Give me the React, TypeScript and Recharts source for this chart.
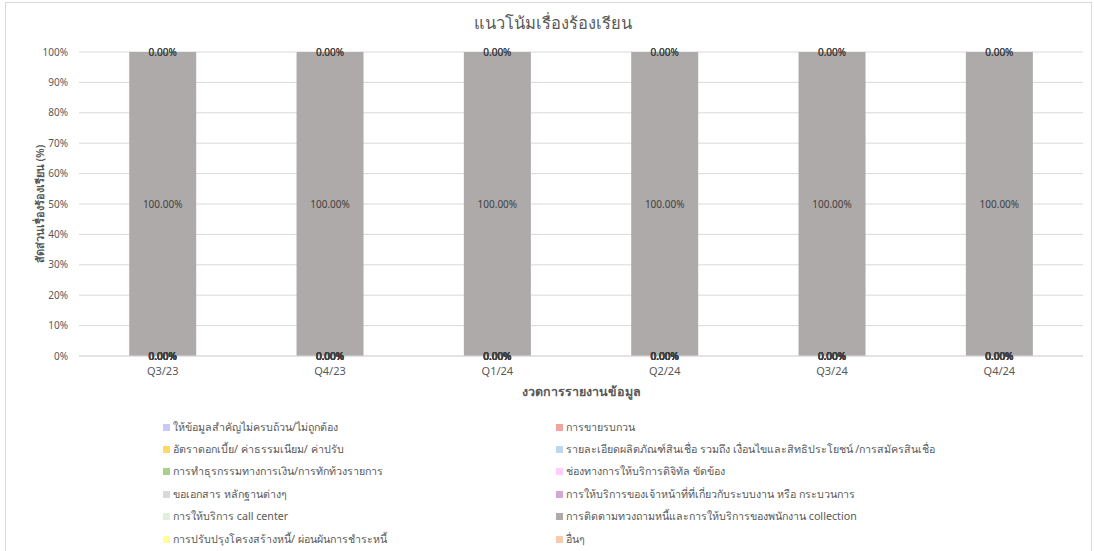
import { BarChart, Bar, XAxis, YAxis, CartesianGrid, LabelList, Label } from "recharts";

// periods on the x axis
const periods = ["Q3/23", "Q4/23", "Q1/24", "Q2/24", "Q3/24", "Q4/24"];
const yTicks = [0, 0.1, 0.2, 0.3, 0.4, 0.5, 0.6, 0.7, 0.8, 0.9, 1];

// share of complaints per topic (%), one array per topic
const incompleteInfo = [0, 0, 0, 0, 0, 0];
const annoyingSales = [0, 0, 0, 0, 0, 0];
const interestFees = [0, 0, 0, 0, 0, 0];
const productDetails = [0, 0, 0, 0, 0, 0];
const transactions = [0, 0, 0, 0, 0, 0];
const digitalChannels = [0, 0, 0, 0, 0, 0];
const documents = [0, 0, 0, 0, 0, 0];
const staffService = [0, 0, 0, 0, 0, 0];
const callCenter = [0, 0, 0, 0, 0, 0];
const collection = [100, 100, 100, 100, 100, 100];
const debtRestructure = [0, 0, 0, 0, 0, 0];
const others = [0, 0, 0, 0, 0, 0];

const seriesNames = [
  "ให้ข้อมูลสำคัญไม่ครบถ้วน/ไม่ถูกต้อง",
  "การขายรบกวน",
  "อัตราดอกเบี้ย/ ค่าธรรมเนียม/ ค่าปรับ",
  "รายละเอียดผลิตภัณฑ์สินเชื่อ รวมถึง เงื่อนไขและสิทธิประโยชน์ /การสมัครสินเชื่อ",
  "การทำธุรกรรมทางการเงิน/การทักท้วงรายการ",
  "ช่องทางการให้บริการดิจิทัล ขัดข้อง",
  "ขอเอกสาร หลักฐานต่างๆ",
  "การให้บริการของเจ้าหน้าที่ที่เกี่ยวกับระบบงาน หรือ กระบวนการ",
  "การให้บริการ call center",
  "การติดตามทวงถามหนี้และการให้บริการของพนักงาน collection",
  "การปรับปรุงโครงสร้างหนี้/ ผ่อนผันการชำระหนี้",
  "อื่นๆ",
];

const seriesValues = [
  incompleteInfo,
  annoyingSales,
  interestFees,
  productDetails,
  transactions,
  digitalChannels,
  documents,
  staffService,
  callCenter,
  collection,
  debtRestructure,
  others,
];

const seriesColors = [
  "#C9C9F7",
  "#F4A3A3",
  "#FFD966",
  "#BDD7EE",
  "#A9D18E",
  "#FFCCFF",
  "#D9D9D9",
  "#D4A8D4",
  "#E2EFDA",
  "#AEAAAA",
  "#FFFF99",
  "#F8CBAD",
];

const data = periods.map((period, i) => {
  const row: any = { period };
  seriesValues.forEach((vals, s) => {
    row["s" + s] = vals[i];
  });
  return row;
});

const FONT = "'Noto Sans', 'DejaVu Sans', sans-serif";
const MAIN = 9; // index of the only non-zero topic
const fmt = (v: any) => `${Number(v).toFixed(2)}%`;

// zero-height segments get no label from recharts, so the labels of the
// empty topics are drawn on the edges of the filled segment
const renderLabels = (props: any) => {
  const { x, y, width, height, index } = props;
  const cx = x + width / 2;
  const texts: any[] = [];
  seriesValues.forEach((vals, s) => {
    let ty = y + height / 2;
    if (s < MAIN) ty = y + height;
    if (s > MAIN) ty = y;
    texts.push(
      <text
        key={s}
        x={cx}
        y={ty}
        dy="0.35em"
        textAnchor="middle"
        fill="#404040"
        fontSize={10}
        fontFamily={FONT}
      >
        {fmt(vals[index])}
      </text>
    );
  });
  return <g>{texts}</g>;
};

export default function App() {
  return (
    <div style={{ position: "absolute", left: 0, top: 0, width: 1094, height: 551, fontFamily: FONT, background: "#fff", overflow: "hidden" }}>

      {/* frame */}
      <div style={{ position: "absolute", left: 5, top: 2, width: 1085, height: 560, border: "1px solid #D9D9D9" }} />

      {/* title */}
      <div style={{ position: "absolute", left: 0, width: 1106, top: 10, textAlign: "center", fontSize: 16.5, color: "#595959" }}>
        แนวโน้มเรื่องร้องเรียน
      </div>

      <div style={{ position: "absolute", left: 0, top: 0 }}>
        <BarChart
          width={1094}
          height={551}
          data={data}
          stackOffset="expand"
          barCategoryGap="30%"
          margin={{ top: 52, right: 11, bottom: 165, left: 39 }}
        >
          <CartesianGrid vertical={false} stroke="#D9D9D9" />

          <XAxis
            dataKey="period"
            axisLine={{ stroke: "#D9D9D9" }}
            tickLine={false}
            tickSize={6}
            tickMargin={5}
            height={30}
            tick={{ fill: "#595959", fontSize: 11, fontFamily: FONT }}
          >
            <Label
              value="งวดการรายงานข้อมูล"
              position="bottom"
              offset={1}
              style={{ fill: "#595959", fontSize: 12.5, fontWeight: 600, fontFamily: FONT }}
            />
          </XAxis>

          <YAxis
            width={40}
            domain={[0, 1]}
            ticks={yTicks}
            axisLine={false}
            tickLine={false}
            tickSize={6}
            tickMargin={5}
            tickFormatter={(v) => `${Math.round(v * 100)}%`}
            tick={{ fill: "#595959", fontSize: 10, fontFamily: FONT }}
          >
            <Label
              value="สัดส่วนเรื่องร้องเรียน (%)"
              angle={-90}
              position="left"
              offset={7}
              dx={8}
              style={{ fill: "#595959", fontSize: 11, fontWeight: 600, textAnchor: "middle", fontFamily: FONT }}
            />
          </YAxis>

          {seriesNames.map((name, s) => (
            <Bar
              key={name}
              name={name}
              dataKey={"s" + s}
              stackId="a"
              fill={seriesColors[s]}
              isAnimationActive={false}
            >
              {s === MAIN && (
                <LabelList dataKey={"s" + s} content={renderLabels} />
              )}
            </Bar>
          ))}
        </BarChart>
      </div>

      {/* LEGEND */}
      <div style={{ position: "absolute", left: 163, top: 416, width: 920, display: "grid", gridTemplateColumns: "393px auto" }}>
        {seriesNames.map((name, s) => (
          <div key={name} style={{ display: "flex", alignItems: "center", height: 22.4, fontSize: 10.7, color: "#595959", whiteSpace: "nowrap" }}>
            <span style={{ display: "inline-block", width: 7, height: 7, background: seriesColors[s], marginRight: 3 }} />
            {name}
          </div>
        ))}
      </div>

    </div>
  );
}
